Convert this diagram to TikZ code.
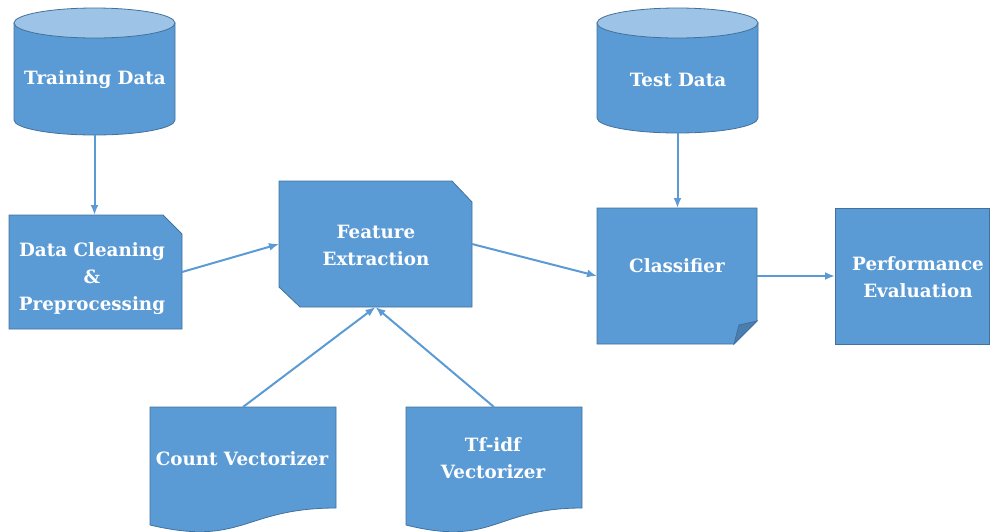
\documentclass[tikz,border=0pt]{standalone}
\usepackage{fontspec}
\setmainfont{DejaVu Serif}
\usetikzlibrary{arrows.meta}
\definecolor{boxblue}{HTML}{5B9BD5}
\definecolor{boxedge}{HTML}{41719C}
\definecolor{lidblue}{HTML}{9DC3E6}
\definecolor{folddark}{HTML}{4A7EB0}
\begin{document}
\begin{tikzpicture}
[x=1pt,y=-1pt,
frame/.style={rectangle,inner sep=0pt,outer sep=0pt},
blockfill/.style={fill=boxblue,draw=boxedge,line width=0.8pt},
txt/.style={text=white,font=\bfseries\fontsize{18.3}{27}\selectfont,align=center},
link/.style={draw=boxblue,line width=2pt,-{Latex[length=10pt,width=8pt]}}]
\useasboundingbox (0,0) rectangle (990,531);
\node[frame,minimum width=161,minimum height=127] (train) at (94.5,71.5){};
\node[frame,minimum width=161,minimum height=125] (test) at (677.5,70.5){};
\node[frame,minimum width=173,minimum height=114] (clean) at (95.5,272){};
\node[frame,minimum width=193,minimum height=126] (feat) at (375.5,244){};
\node[frame,minimum width=160,minimum height=136] (clf) at (677,276){};
\node[frame,minimum width=154,minimum height=136] (perf) at (912,276){};
\node[frame,minimum width=186,minimum height=126] (count) at (243,470){};
\node[frame,minimum width=176,minimum height=126] (tfidf) at (494,470){};
\foreach \n in {train,test}{
\draw[blockfill] ([yshift=-15pt]\n.north west) -- ([yshift=15pt]\n.south west)
  arc[start angle=180,end angle=360,x radius=80.5pt,y radius=15pt] -- ([yshift=-15pt]\n.north east) -- cycle;
\draw[blockfill,fill=lidblue] ([yshift=-15pt]\n.north) ellipse[x radius=80.5pt,y radius=15pt];
}
\draw[blockfill] (clean.north west) -- ([xshift=-19pt]clean.north east) -- ([yshift=-19pt]clean.north east)
  -- (clean.south east) -- (clean.south west) -- cycle;
\draw[blockfill] (feat.north west) -- ([xshift=-20pt]feat.north east) -- ([yshift=-21pt]feat.north east)
  -- (feat.south east) -- ([xshift=21pt]feat.south west) -- ([yshift=20pt]feat.south west) -- cycle;
\draw[blockfill] (clf.north west) -- (clf.north east) -- ([yshift=23pt]clf.south east)
  -- ([xshift=-23pt]clf.south east) -- (clf.south west) -- cycle;
\draw[blockfill,fill=folddark] ([xshift=-23pt]clf.south east) -- ([xshift=-18pt,yshift=19pt]clf.south east)
  -- ([yshift=23pt]clf.south east) -- cycle;
\draw[blockfill] (perf.north west) rectangle (perf.south east);
\foreach \n in {count,tfidf}
\draw[blockfill] (\n.north west) -- (\n.north east) -- ([yshift=25pt]\n.south east)
  .. controls ([yshift=25pt]\n.south) and ([yshift=-14pt]\n.south) .. ([yshift=8pt]\n.south west) -- cycle;
\node[txt] (traintext) at (95,80) {Training Data};
\node[txt] (testtext) at (678,80) {Test Data};
\node[txt] (cleantext) at (92,279) {Data Cleaning\\\&\\Preprocessing};
\node[txt] (feattext) at (376,245.5) {Feature\\Extraction};
\node[txt] (clftext) at (677,266) {Classifier};
\node[txt] (perftext) at (918,277) {Performance\\Evaluation};
\node[txt] (counttext) at (242,459) {Count Vectorizer};
\node[txt] (tfidftext) at (493,458.5) {Tf-idf\\Vectorizer};
\draw[link] (train.south) -- (train.south |- clean.north);
\draw[link] (test.south) -- (test.south |- clf.north);
\draw[link] (clean.east) -- (feat.west);
\draw[link] (feat.east) -- (clf.west);
\draw[link] (clf.east) -- (perf.west);
\draw[link] (count.north) -- (feat.south);
\draw[link] (tfidf.north) -- (feat.south);
\end{tikzpicture}
\end{document}
